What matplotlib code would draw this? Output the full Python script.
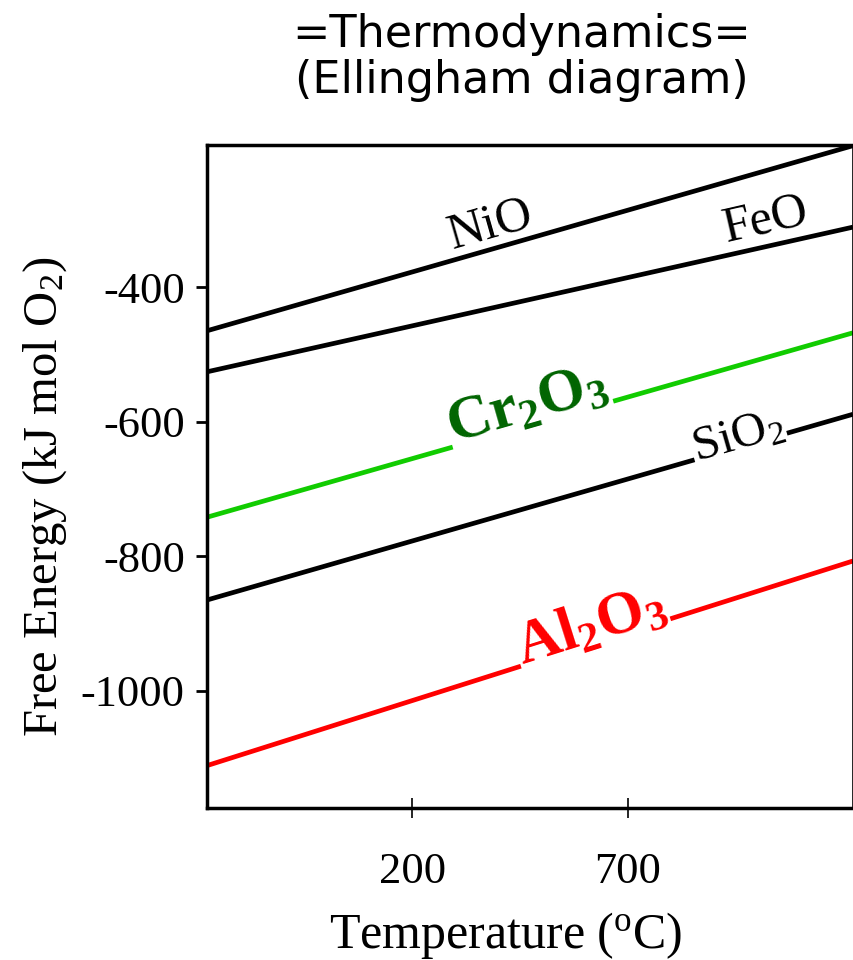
import numpy as np
import matplotlib
matplotlib.use("Agg")
from matplotlib import pyplot as plt

# Ellingham diagram data (free energy per mol O2)
temps = [-277, 1223]
nio = [-465, -190]
feo = [-526, -311]
cr2o3 = [-742, -468]
sio2 = [-865, -589]
al2o3 = [-1111, -807]

x_ticks = [200, 700]
y_ticks = [-400, -600, -800, -1000]

plt.rcParams["font.family"] = ["Liberation Serif", "DejaVu Serif"]
plt.rcParams["mathtext.fontset"] = "custom"
plt.rcParams["mathtext.rm"] = "Liberation Serif"
plt.rcParams["mathtext.it"] = "Liberation Serif:italic"
plt.rcParams["mathtext.bf"] = "Liberation Serif:bold"
plt.rcParams["mathtext.default"] = "rm"
plt.rcParams["axes.unicode_minus"] = False

fig = plt.figure(figsize=(8.54, 9.6), dpi=100)
ax = fig.add_axes([207/854, 1-808/960, 646/854, 663/960])

lw = 3.4
ax.plot(temps, nio, color="black", lw=lw, solid_capstyle="butt")
ax.plot(temps, feo, color="black", lw=lw, solid_capstyle="butt")
ax.plot(temps, cr2o3, color="#11cc00", lw=lw, solid_capstyle="butt")
ax.plot(temps, sio2, color="black", lw=lw, solid_capstyle="butt")
ax.plot(temps, al2o3, color="#ff0000", lw=lw, solid_capstyle="butt")

ax.set_xlim(temps[0], temps[1])
ax.set_ylim(-1174, -189)

#   line labels
box = dict(facecolor="white", edgecolor="none", pad=1)
ax.text(381, -308, "NiO", fontsize=36, rotation=16, ha="center", va="center")
ax.text(1021, -300, "FeO", fontsize=36, rotation=13, ha="center", va="center")
ax.text(467, -575, r"$\mathbf{Cr_2O_3}$", fontsize=44, rotation=16,
        ha="center", va="center", color="#006400", bbox=box)
ax.text(956, -623, r"SiO$_2$", fontsize=35, rotation=16,
        ha="center", va="center", bbox=box)
ax.text(614, -905, r"$\mathbf{Al_2O_3}$", fontsize=44, rotation=17.5,
        ha="center", va="center", color="#ff0000", bbox=box)

ax.set_xticks(x_ticks)
ax.set_yticks(y_ticks)
ax.tick_params(axis="x", direction="inout", length=15, width=1.2, pad=24, labelsize=32)
ax.tick_params(axis="y", direction="out", length=8, width=2, pad=8, labelsize=32)

for side in ["left", "top", "bottom"]:
    ax.spines[side].set_linewidth(2.5)
ax.spines["right"].set_linewidth(1.2)

ax.set_xlabel(r"Temperature ($^{\mathrm{o}}$C)", fontsize=36)
ax.set_ylabel(r"Free Energy (kJ mol O$_2$)", fontsize=35)
ax.xaxis.set_label_coords(0.463, -0.1916)
ax.xaxis.label.set_va("center")
ax.yaxis.set_label_coords(-0.251, 0.47)
ax.yaxis.label.set_va("center")

fig.text(522/854, 1-35/960, "=Thermodynamics=", family="DejaVu Sans",
         fontsize=32, ha="center", va="center")
fig.text(522/854, 1-80/960, "(Ellingham diagram)", family="DejaVu Sans",
         fontsize=32, ha="center", va="center")

fig.savefig("out.png", dpi=100)
